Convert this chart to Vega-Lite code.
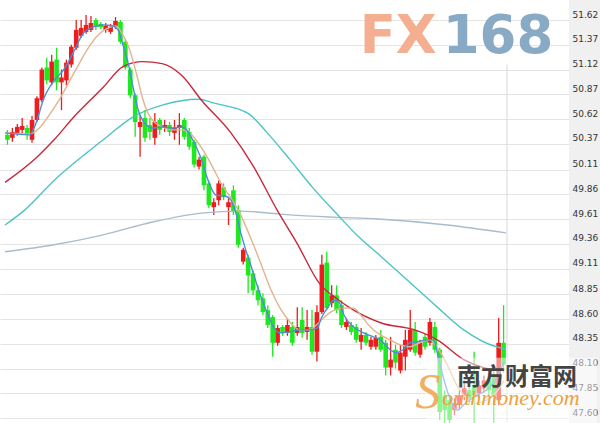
{
  "$schema": "https://vega.github.io/schema/vega-lite/v6.json",
  "width": 569,
  "height": 423,
  "autosize": "none",
  "padding": {"left": 0, "top": 0, "right": 31, "bottom": 0},
  "background": "#f0f0f0",
  "view": {"fill": "white", "stroke": null},
  "config": {"axis": {"labelFont": "DejaVu Sans"}},
  "datasets": {
    "k": [
      {"i":0,"o":50.46,"c":50.41,"h":50.51,"l":50.36},
      {"i":1,"o":50.43,"c":50.49,"h":50.53,"l":50.39},
      {"i":2,"o":50.48,"c":50.54,"h":50.57,"l":50.45},
      {"i":3,"o":50.51,"c":50.55,"h":50.63,"l":50.48},
      {"i":4,"o":50.53,"c":50.46,"h":50.56,"l":50.41},
      {"i":5,"o":50.41,"c":50.61,"h":50.65,"l":50.38},
      {"i":6,"o":50.61,"c":50.83,"h":50.85,"l":50.59},
      {"i":7,"o":50.81,"c":51.12,"h":51.14,"l":50.79},
      {"i":8,"o":51.14,"c":51.01,"h":51.24,"l":50.97},
      {"i":9,"o":50.99,"c":51.20,"h":51.27,"l":50.96},
      {"i":10,"o":51.22,"c":50.99,"h":51.34,"l":50.91},
      {"i":11,"o":50.99,"c":51.04,"h":51.12,"l":50.71},
      {"i":12,"o":51.01,"c":51.19,"h":51.22,"l":50.96},
      {"i":13,"o":51.17,"c":51.35,"h":51.37,"l":51.14},
      {"i":14,"o":51.34,"c":51.52,"h":51.62,"l":51.32},
      {"i":15,"o":51.46,"c":51.54,"h":51.62,"l":51.44},
      {"i":16,"o":51.50,"c":51.57,"h":51.67,"l":51.48},
      {"i":17,"o":51.52,"c":51.59,"h":51.66,"l":51.50},
      {"i":18,"o":51.62,"c":51.55,"h":51.64,"l":51.52},
      {"i":19,"o":51.58,"c":51.55,"h":51.60,"l":51.53},
      {"i":20,"o":51.52,"c":51.56,"h":51.59,"l":51.49},
      {"i":21,"o":51.50,"c":51.55,"h":51.58,"l":51.48},
      {"i":22,"o":51.55,"c":51.61,"h":51.65,"l":51.53},
      {"i":23,"o":51.60,"c":51.40,"h":51.62,"l":51.38},
      {"i":24,"o":51.40,"c":51.14,"h":51.42,"l":51.12},
      {"i":25,"o":51.12,"c":50.86,"h":51.14,"l":50.83},
      {"i":26,"o":50.86,"c":50.59,"h":50.88,"l":50.44},
      {"i":27,"o":50.54,"c":50.59,"h":50.66,"l":50.24},
      {"i":28,"o":50.63,"c":50.43,"h":50.71,"l":50.39},
      {"i":29,"o":50.56,"c":50.49,"h":50.63,"l":50.41},
      {"i":30,"o":50.43,"c":50.59,"h":50.68,"l":50.36},
      {"i":31,"o":50.61,"c":50.51,"h":50.63,"l":50.46},
      {"i":32,"o":50.53,"c":50.56,"h":50.61,"l":50.49},
      {"i":33,"o":50.56,"c":50.49,"h":50.59,"l":50.45},
      {"i":34,"o":50.48,"c":50.53,"h":50.61,"l":50.41},
      {"i":35,"o":50.53,"c":50.56,"h":50.68,"l":50.36},
      {"i":36,"o":50.61,"c":50.44,"h":50.63,"l":50.41},
      {"i":37,"o":50.49,"c":50.34,"h":50.53,"l":50.31},
      {"i":38,"o":50.39,"c":50.16,"h":50.41,"l":50.13},
      {"i":39,"o":50.14,"c":50.21,"h":50.24,"l":50.11},
      {"i":40,"o":50.24,"c":49.95,"h":50.26,"l":49.90},
      {"i":41,"o":49.97,"c":49.75,"h":50.00,"l":49.72},
      {"i":42,"o":49.73,"c":49.78,"h":49.82,"l":49.65},
      {"i":43,"o":49.80,"c":49.97,"h":50.00,"l":49.75},
      {"i":44,"o":49.93,"c":49.83,"h":49.97,"l":49.80},
      {"i":45,"o":49.73,"c":49.78,"h":49.82,"l":49.55},
      {"i":46,"o":49.90,"c":49.68,"h":49.95,"l":49.65},
      {"i":47,"o":49.70,"c":49.35,"h":49.75,"l":49.32},
      {"i":48,"o":49.18,"c":49.30,"h":49.32,"l":49.15},
      {"i":49,"o":49.22,"c":49.04,"h":49.25,"l":48.86},
      {"i":50,"o":49.06,"c":48.89,"h":49.09,"l":48.84},
      {"i":51,"o":48.89,"c":48.79,"h":48.94,"l":48.74},
      {"i":52,"o":48.81,"c":48.67,"h":48.86,"l":48.64},
      {"i":53,"o":48.69,"c":48.54,"h":48.74,"l":48.51},
      {"i":54,"o":48.62,"c":48.36,"h":48.64,"l":48.22},
      {"i":55,"o":48.36,"c":48.51,"h":48.54,"l":48.33},
      {"i":56,"o":48.52,"c":48.46,"h":48.54,"l":48.43},
      {"i":57,"o":48.46,"c":48.54,"h":48.61,"l":48.43},
      {"i":58,"o":48.52,"c":48.36,"h":48.57,"l":48.33},
      {"i":59,"o":48.46,"c":48.52,"h":48.72,"l":48.43},
      {"i":60,"o":48.59,"c":48.46,"h":48.72,"l":48.41},
      {"i":61,"o":48.47,"c":48.52,"h":48.69,"l":48.39},
      {"i":62,"o":48.52,"c":48.27,"h":48.69,"l":48.24},
      {"i":63,"o":48.27,"c":48.67,"h":48.74,"l":48.17},
      {"i":64,"o":48.67,"c":49.15,"h":49.25,"l":48.65},
      {"i":65,"o":49.17,"c":48.71,"h":49.28,"l":48.69},
      {"i":66,"o":48.76,"c":48.84,"h":48.94,"l":48.72},
      {"i":67,"o":48.84,"c":48.69,"h":48.94,"l":48.66},
      {"i":68,"o":48.74,"c":48.54,"h":48.79,"l":48.51},
      {"i":69,"o":48.52,"c":48.57,"h":48.61,"l":48.49},
      {"i":70,"o":48.54,"c":48.47,"h":48.57,"l":48.44},
      {"i":71,"o":48.52,"c":48.39,"h":48.55,"l":48.36},
      {"i":72,"o":48.37,"c":48.44,"h":48.51,"l":48.29},
      {"i":73,"o":48.44,"c":48.36,"h":48.47,"l":48.33},
      {"i":74,"o":48.32,"c":48.39,"h":48.42,"l":48.29},
      {"i":75,"o":48.32,"c":48.41,"h":48.44,"l":48.29},
      {"i":76,"o":48.42,"c":48.29,"h":48.49,"l":48.27},
      {"i":77,"o":48.36,"c":48.11,"h":48.39,"l":48.03},
      {"i":78,"o":48.11,"c":48.19,"h":48.42,"l":48.03},
      {"i":79,"o":48.29,"c":48.16,"h":48.34,"l":48.10},
      {"i":80,"o":48.08,"c":48.26,"h":48.34,"l":48.05},
      {"i":81,"o":48.22,"c":48.39,"h":48.49,"l":48.08},
      {"i":82,"o":48.29,"c":48.49,"h":48.69,"l":48.27},
      {"i":83,"o":48.49,"c":48.26,"h":48.57,"l":48.23},
      {"i":84,"o":48.24,"c":48.36,"h":48.39,"l":48.21},
      {"i":85,"o":48.42,"c":48.32,"h":48.45,"l":48.29},
      {"i":86,"o":48.36,"c":48.57,"h":48.61,"l":48.33},
      {"i":87,"o":48.52,"c":48.29,"h":48.57,"l":48.26},
      {"i":88,"o":48.29,"c":47.66,"h":48.31,"l":47.58},
      {"i":89,"o":47.83,"c":47.68,"h":47.88,"l":47.55},
      {"i":90,"o":47.78,"c":47.58,"h":47.83,"l":47.38},
      {"i":91,"o":47.68,"c":47.75,"h":47.80,"l":47.63},
      {"i":92,"o":47.73,"c":47.83,"h":47.88,"l":47.68},
      {"i":93,"o":47.83,"c":47.90,"h":47.98,"l":47.78},
      {"i":94,"o":47.88,"c":47.80,"h":47.93,"l":47.75},
      {"i":95,"o":47.93,"c":47.83,"h":48.27,"l":47.38},
      {"i":96,"o":47.85,"c":47.93,"h":47.98,"l":47.80},
      {"i":97,"o":47.90,"c":47.98,"h":48.03,"l":47.86},
      {"i":98,"o":47.98,"c":47.88,"h":48.01,"l":47.83},
      {"i":99,"o":48.03,"c":47.83,"h":48.11,"l":47.38},
      {"i":100,"o":47.78,"c":48.36,"h":48.61,"l":47.73},
      {"i":101,"o":48.36,"c":48.14,"h":48.74,"l":48.06}
    ],
    "ma": [
      {"s":"gb","i":-0.5,"v":49.28},{"s":"gb","i":9.5,"v":49.35},{"s":"gb","i":19.5,"v":49.45},{"s":"gb","i":29.5,"v":49.58},{"s":"gb","i":39.5,"v":49.67},{"s":"gb","i":47.5,"v":49.69},{"s":"gb","i":55.5,"v":49.66},{"s":"gb","i":65.5,"v":49.63},{"s":"gb","i":75.5,"v":49.61},{"s":"gb","i":89.5,"v":49.55},{"s":"gb","i":101.5,"v":49.47},
      {"s":"cy","i":-0.5,"v":49.55},{"s":"cy","i":3.5,"v":49.70},{"s":"cy","i":9.5,"v":50.00},{"s":"cy","i":19.5,"v":50.41},{"s":"cy","i":25.5,"v":50.64},{"s":"cy","i":31.5,"v":50.76},{"s":"cy","i":38.9,"v":50.82},{"s":"cy","i":42.1,"v":50.78},{"s":"cy","i":48.9,"v":50.68},{"s":"cy","i":52.9,"v":50.48},{"s":"cy","i":57.5,"v":50.21},{"s":"cy","i":62.1,"v":49.93},{"s":"cy","i":66.9,"v":49.67},{"s":"cy","i":71.5,"v":49.43},{"s":"cy","i":76.1,"v":49.23},{"s":"cy","i":81.5,"v":48.99},{"s":"cy","i":87.5,"v":48.72},{"s":"cy","i":92.9,"v":48.49},{"s":"cy","i":99.5,"v":48.32},{"s":"cy","i":101.5,"v":48.30},
      {"s":"rd","i":-0.5,"v":49.98},{"s":"rd","i":6.1,"v":50.24},{"s":"rd","i":9.5,"v":50.41},{"s":"rd","i":13.5,"v":50.64},{"s":"rd","i":19.5,"v":50.94},{"s":"rd","i":23.5,"v":51.15},{"s":"rd","i":27.5,"v":51.20},{"s":"rd","i":31.5,"v":51.18},{"s":"rd","i":35.5,"v":51.06},{"s":"rd","i":39.5,"v":50.81},{"s":"rd","i":45.5,"v":50.48},{"s":"rd","i":50.1,"v":50.14},{"s":"rd","i":54.9,"v":49.70},{"s":"rd","i":58.9,"v":49.37},{"s":"rd","i":63.5,"v":48.96},{"s":"rd","i":67.5,"v":48.79},{"s":"rd","i":69.5,"v":48.72},{"s":"rd","i":76.1,"v":48.56},{"s":"rd","i":82.9,"v":48.49},{"s":"rd","i":87.5,"v":48.39},{"s":"rd","i":92.9,"v":48.19},{"s":"rd","i":96.9,"v":48.11},{"s":"rd","i":100.5,"v":48.08},
      {"s":"tn","i":-0.5,"v":50.48},{"s":"tn","i":4.5,"v":50.47},{"s":"tn","i":6.5,"v":50.53},{"s":"tn","i":8.5,"v":50.66},{"s":"tn","i":10.5,"v":50.81},{"s":"tn","i":12.5,"v":50.99},{"s":"tn","i":14.5,"v":51.17},{"s":"tn","i":16.5,"v":51.34},{"s":"tn","i":18.5,"v":51.47},{"s":"tn","i":20.5,"v":51.54},{"s":"tn","i":22.1,"v":51.56},{"s":"tn","i":23.5,"v":51.47},{"s":"tn","i":24.5,"v":51.37},{"s":"tn","i":25.5,"v":51.22},{"s":"tn","i":26.5,"v":51.03},{"s":"tn","i":27.5,"v":50.83},{"s":"tn","i":28.5,"v":50.69},{"s":"tn","i":29.5,"v":50.61},{"s":"tn","i":31.5,"v":50.54},{"s":"tn","i":33.5,"v":50.51},{"s":"tn","i":35.5,"v":50.51},{"s":"tn","i":37.5,"v":50.46},{"s":"tn","i":39.5,"v":50.33},{"s":"tn","i":41.5,"v":50.16},{"s":"tn","i":43.5,"v":49.97},{"s":"tn","i":45.5,"v":49.82},{"s":"tn","i":47.5,"v":49.65},{"s":"tn","i":49.5,"v":49.42},{"s":"tn","i":51.5,"v":49.17},{"s":"tn","i":53.5,"v":48.91},{"s":"tn","i":55.5,"v":48.71},{"s":"tn","i":57.5,"v":48.57},{"s":"tn","i":59.5,"v":48.49},{"s":"tn","i":61.5,"v":48.49},{"s":"tn","i":63.5,"v":48.57},{"s":"tn","i":65.5,"v":48.66},{"s":"tn","i":68.5,"v":48.71},{"s":"tn","i":70.5,"v":48.71},{"s":"tn","i":71.9,"v":48.64},{"s":"tn","i":73.9,"v":48.52},{"s":"tn","i":75.9,"v":48.44},{"s":"tn","i":77.9,"v":48.39},{"s":"tn","i":79.9,"v":48.34},{"s":"tn","i":81.9,"v":48.32},{"s":"tn","i":83.9,"v":48.36},{"s":"tn","i":85.9,"v":48.39},{"s":"tn","i":87.5,"v":48.31},{"s":"tn","i":89.5,"v":48.14},{"s":"tn","i":91.5,"v":47.93},{"s":"tn","i":93.5,"v":47.80},{"s":"tn","i":95.5,"v":47.75},{"s":"tn","i":97.5,"v":47.78},{"s":"tn","i":99.5,"v":47.86},{"s":"tn","i":101.1,"v":47.98},
      {"s":"bl","i":-0.5,"v":50.48},{"s":"bl","i":4.5,"v":50.46},{"s":"bl","i":5.5,"v":50.54},{"s":"bl","i":7.5,"v":50.84},{"s":"bl","i":9.5,"v":51.01},{"s":"bl","i":11.5,"v":51.12},{"s":"bl","i":13.5,"v":51.30},{"s":"bl","i":15.5,"v":51.49},{"s":"bl","i":17.5,"v":51.55},{"s":"bl","i":19.5,"v":51.57},{"s":"bl","i":21.5,"v":51.56},{"s":"bl","i":22.5,"v":51.52},{"s":"bl","i":23.5,"v":51.37},{"s":"bl","i":24.5,"v":51.20},{"s":"bl","i":25.5,"v":50.96},{"s":"bl","i":26.5,"v":50.73},{"s":"bl","i":27.5,"v":50.61},{"s":"bl","i":29.5,"v":50.53},{"s":"bl","i":31.5,"v":50.54},{"s":"bl","i":33.5,"v":50.53},{"s":"bl","i":35.5,"v":50.54},{"s":"bl","i":36.5,"v":50.51},{"s":"bl","i":37.5,"v":50.43},{"s":"bl","i":38.5,"v":50.33},{"s":"bl","i":39.5,"v":50.21},{"s":"bl","i":40.5,"v":50.05},{"s":"bl","i":41.5,"v":49.92},{"s":"bl","i":42.5,"v":49.85},{"s":"bl","i":44.5,"v":49.84},{"s":"bl","i":45.5,"v":49.80},{"s":"bl","i":46.5,"v":49.67},{"s":"bl","i":47.5,"v":49.47},{"s":"bl","i":48.5,"v":49.30},{"s":"bl","i":49.5,"v":49.15},{"s":"bl","i":50.5,"v":48.99},{"s":"bl","i":51.5,"v":48.84},{"s":"bl","i":52.5,"v":48.71},{"s":"bl","i":53.5,"v":48.59},{"s":"bl","i":54.5,"v":48.49},{"s":"bl","i":55.5,"v":48.46},{"s":"bl","i":57.5,"v":48.47},{"s":"bl","i":59.5,"v":48.49},{"s":"bl","i":61.5,"v":48.49},{"s":"bl","i":63.1,"v":48.51},{"s":"bl","i":63.9,"v":48.61},{"s":"bl","i":65.1,"v":48.71},{"s":"bl","i":66.5,"v":48.79},{"s":"bl","i":67.5,"v":48.77},{"s":"bl","i":68.5,"v":48.64},{"s":"bl","i":70.5,"v":48.52},{"s":"bl","i":72.5,"v":48.46},{"s":"bl","i":74.5,"v":48.42},{"s":"bl","i":75.9,"v":48.39},{"s":"bl","i":77.9,"v":48.29},{"s":"bl","i":79.1,"v":48.26},{"s":"bl","i":80.5,"v":48.29},{"s":"bl","i":81.9,"v":48.36},{"s":"bl","i":83.5,"v":48.37},{"s":"bl","i":85.5,"v":48.39},{"s":"bl","i":86.7,"v":48.39},{"s":"bl","i":87.9,"v":48.17},{"s":"bl","i":89.5,"v":47.88},{"s":"bl","i":91.5,"v":47.68},{"s":"bl","i":93.5,"v":47.76},{"s":"bl","i":95.5,"v":47.83},{"s":"bl","i":97.5,"v":47.88},{"s":"bl","i":99.5,"v":48.00},{"s":"bl","i":101.1,"v":48.17}
    ]
  },
  "encoding": {
    "x": {"field": "i", "type": "quantitative", "scale": {"domain": [-0.5, 113.3], "nice": false, "zero": false}, "axis": null},
    "y": {
      "field": "v", "type": "quantitative",
      "scale": {"domain": [47.55, 51.822], "nice": false, "zero": false},
      "axis": {
        "orient": "right", "title": null, "domain": false, "ticks": false,
        "values": [47.6, 47.85, 48.1, 48.35, 48.6, 48.85, 49.11, 49.36, 49.61, 49.86, 50.11, 50.37, 50.62, 50.87, 51.12, 51.37, 51.62],
        "format": ".2f", "labelPadding": 3, "labelBaseline": "bottom", "labelOffset": -1,
        "labelFont": "DejaVu Sans", "labelFontSize": 9, "labelColor": "#333333",
        "labelOverlap": false, "labelBound": false, "labelFlush": false,
        "grid": true, "gridColor": "#e4e4e4", "gridWidth": 1
      }
    }
  },
  "layer": [
    {
      "data": {"name": "k"},
      "mark": {"type": "rule", "strokeWidth": 1.3, "clip": true},
      "encoding": {
        "y": {"field": "l", "type": "quantitative"},
        "y2": {"field": "h"},
        "color": {"condition": {"test": "datum.c > datum.o", "value": "#ee1c1c"}, "value": "#1ee81e"}
      }
    },
    {
      "data": {"name": "k"},
      "mark": {"type": "bar", "size": 4.6, "clip": true},
      "encoding": {
        "y": {"field": "o", "type": "quantitative"},
        "y2": {"field": "c"},
        "color": {"condition": {"test": "datum.c > datum.o", "value": "#ee1c1c"}, "value": "#1ee81e"}
      }
    },
    {
      "data": {"name": "ma"},
      "mark": {"type": "line", "strokeWidth": 1.4, "interpolate": "monotone", "clip": true},
      "encoding": {
        "color": {"field": "s", "type": "nominal", "legend": null,
          "scale": {"domain": ["gb", "cy", "rd", "tn", "bl"], "range": ["#a9bccb", "#4cc4c4", "#c8283a", "#e2b48e", "#4a8fd8"]}},
        "detail": {"field": "s"}
      }
    },
    {
      "data": {"values": [{"i": 101.7, "v": 51.17, "v2": 47.55}]},
      "mark": {"type": "rule", "color": "#d8d8d8", "strokeWidth": 1},
      "encoding": {"y2": {"field": "v2"}}
    },
    {
      "data": {"values": [{"i": 71.7, "v": 51.29, "t": "FX"}]},
      "mark": {"type": "text", "font": "DejaVu Sans", "fontWeight": "bold", "fontSize": 53, "color": "#f4ae90", "align": "left", "baseline": "alphabetic"},
      "encoding": {"text": {"field": "t"}}
    },
    {
      "data": {"values": [{"i": 88.6, "v": 51.29, "t": "168"}]},
      "mark": {"type": "text", "font": "DejaVu Sans", "fontWeight": "bold", "fontSize": 53, "color": "#88aac4", "align": "left", "baseline": "alphabetic"},
      "encoding": {"text": {"field": "t"}}
    },
    {
      "data": {"values": [{"i": 85.2, "i2": 120, "v": 47.5, "v2": 48.21}]},
      "mark": {"type": "rect", "color": "white", "opacity": 0.5},
      "encoding": {"x2": {"field": "i2"}, "y2": {"field": "v2"}}
    },
    {
      "data": {"values": [{"i": 83.0, "v": 47.7, "t": "S"}]},
      "mark": {"type": "text", "font": "Liberation Serif", "fontStyle": "italic", "fontSize": 50, "color": "#f0a048", "opacity": 0.85, "align": "left", "baseline": "alphabetic"},
      "encoding": {"text": {"field": "t"}}
    },
    {
      "data": {"values": [{"i": 88.5, "v": 47.8, "t": "outhmoney.com"}]},
      "mark": {"type": "text", "font": "Liberation Serif", "fontStyle": "italic", "fontSize": 22, "color": "#eca040", "align": "left", "baseline": "middle"},
      "encoding": {"text": {"field": "t"}}
    },
    {
      "data": {"values": [{"i": 91.5, "v": 48.0, "t": "南方财富网"}]},
      "mark": {"type": "text", "font": "Noto Sans CJK SC", "fontWeight": "bold", "fontSize": 24, "color": "#444444", "align": "left", "baseline": "middle"},
      "encoding": {"text": {"field": "t"}}
    }
  ]
}
